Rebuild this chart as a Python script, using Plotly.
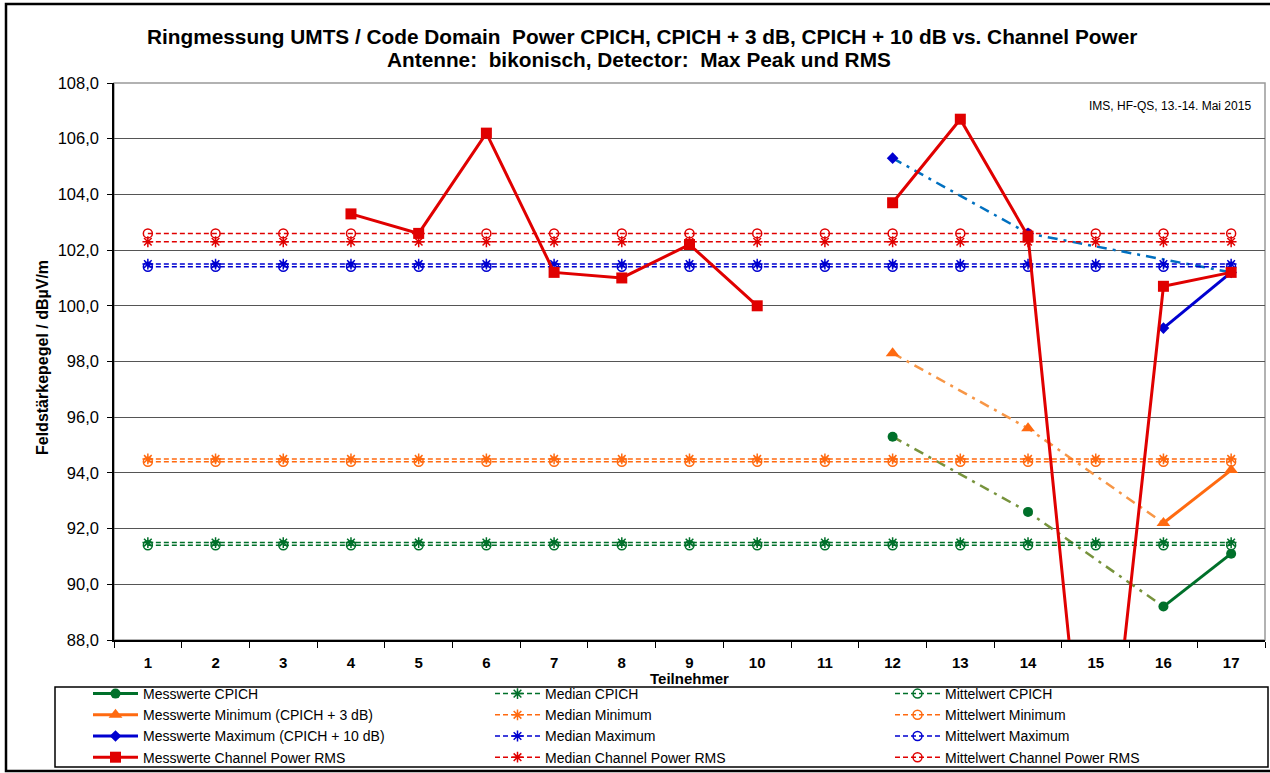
import plotly.graph_objects as go

# ---------------------------------------------------------------------------
# Data
# ---------------------------------------------------------------------------
teilnehmer = [str(i) for i in range(1, 18)]

cpich = [None] * 11 + [95.3, None, 92.6, None, 89.2, 91.1]
minimum = [None] * 11 + [98.3, None, 95.6, None, 92.2, 94.1]
maximum = [None] * 11 + [105.3, None, 102.6, None, 99.2, 101.2]
channel_rms = [None, None, None, 103.3, 102.6, 106.2, 101.2, 101.0, 102.2, 100.0,
               None, 103.7, 106.7, 102.5, 78.5, 100.7, 101.2]

# dash-dot connectors across the gaps (participant numbers)
cpich_trend = [12, 14, 16]
minimum_trend = [12, 14, 16]
maximum_trend = [12, 14, 17]

series_names = ["CPICH", "Minimum", "Maximum", "Channel Power RMS"]
messwerte_names = ["Messwerte CPICH", "Messwerte Minimum (CPICH + 3 dB)",
                   "Messwerte Maximum (CPICH + 10 dB)", "Messwerte Channel Power RMS"]
median_values = [91.5, 94.5, 101.5, 102.3]
mean_values = [91.4, 94.4, 101.4, 102.6]

y_ticks = [88, 90, 92, 94, 96, 98, 100, 102, 104, 106, 108]

# ---------------------------------------------------------------------------
# Styles
# ---------------------------------------------------------------------------
COLORS = ["#00702a", "#ff6a10", "#0000d0", "#e00000"]
TREND_COLORS = ["#77933c", "#f79646", "#0070c0"]
SYMBOLS = ["circle", "triangle-up", "diamond", "square"]
SIZES = [10, 12, 9, 11]
FONT = "Liberation Sans, Arial, sans-serif"

W, H = 1270, 773
# plot area in pixels
L, R, T, B = 114, 5, 83, 133
PW, PH = W - L - R, H - T - B


def px_x(px):
    return (px - L) / PW


def px_y(py):
    return (H - B - py) / PH


fig = go.Figure()

series_values = [cpich, minimum, maximum, channel_rms]
trend_x = [cpich_trend, minimum_trend, maximum_trend]

# dash-dot connectors first (below markers)
for i, xs in enumerate(trend_x):
    vals = series_values[i]
    fig.add_trace(go.Scatter(
        x=[str(n) for n in xs],
        y=[vals[n - 1] for n in xs],
        mode="lines",
        line=dict(color=TREND_COLORS[i], width=2.5, dash="10px,6px,3px,6px"),
        showlegend=False, hoverinfo="skip",
    ))

for i, name in enumerate(series_names):
    # horizontal median / mean lines
    fig.add_trace(go.Scatter(
        x=teilnehmer, y=[median_values[i]] * len(teilnehmer),
        mode="lines+markers", name=f"Median {name}",
        line=dict(color=COLORS[i], width=1.5, dash="5px,3px"),
        marker=dict(symbol="asterisk-open", size=9, color=COLORS[i],
                    line=dict(color=COLORS[i], width=1.5)),
        legend="legend2", legendrank=i,
    ))
    fig.add_trace(go.Scatter(
        x=teilnehmer, y=[mean_values[i]] * len(teilnehmer),
        mode="lines+markers", name=f"Mittelwert {name}",
        line=dict(color=COLORS[i], width=1.5, dash="5px,3px"),
        marker=dict(symbol="circle-open", size=9, color=COLORS[i],
                    line=dict(color=COLORS[i], width=1.5)),
        legend="legend3", legendrank=i,
    ))

for i, name in enumerate(messwerte_names):
    fig.add_trace(go.Scatter(
        x=teilnehmer, y=series_values[i],
        mode="lines+markers", name=name,
        line=dict(color=COLORS[i], width=3),
        marker=dict(symbol=SYMBOLS[i], size=SIZES[i], color=COLORS[i]),
        connectgaps=False,
        legend="legend", legendrank=i,
    ))

legend_style = dict(
    orientation="v", yanchor="top", xanchor="left",
    bgcolor="rgba(0,0,0,0)", borderwidth=0,
    font=dict(family=FONT, size=14, color="#000"),
    itemwidth=45, tracegroupgap=0,
)

TITLE_FONT = dict(family=FONT, size=20.8, weight="bold")

fig.update_layout(
    template="none",
    width=W, height=H, autosize=False,
    paper_bgcolor="white", plot_bgcolor="white",
    margin=dict(l=L, r=R, t=T, b=B, pad=0, autoexpand=False),
    separators=",.",
    font=dict(family=FONT, size=14, color="#000"),
    legend=dict(x=px_x(88), y=px_y(678), **legend_style),
    legend2=dict(x=px_x(490), y=px_y(678), **legend_style),
    legend3=dict(x=px_x(890), y=px_y(678), **legend_style),
    xaxis=dict(
        type="category", categoryorder="array", categoryarray=teilnehmer,
        range=[-0.5, len(teilnehmer) - 0.5],
        tickson="boundaries", ticks="outside", ticklen=6, tickcolor="#000",
        ticklabelstandoff=8,
        showgrid=False, showline=True, linecolor="#000", linewidth=1.5,
        zeroline=False, automargin=False,
        tickfont=dict(family=FONT, size=15, color="#000", weight="bold"),
    ),
    yaxis=dict(
        range=[88, 108], tickvals=y_ticks, tickformat=".1f",
        ticks="outside", ticklen=5, tickcolor="#000",
        ticklabelstandoff=5,
        showgrid=True, gridcolor="#555", gridwidth=1,
        showline=True, linecolor="#000", linewidth=1.5, zeroline=False,
        automargin=False,
        tickfont=dict(family=FONT, size=16.5, color="#000"),
    ),
    shapes=[
        # plot area frame (right/top grey)
        dict(type="rect", xref="paper", yref="paper", x0=0, x1=1, y0=0, y1=1,
             line=dict(color="#999", width=1.5), layer="below"),
        # legend box
        dict(type="rect", xref="paper", yref="paper",
             x0=px_x(55), x1=px_x(1268), y0=px_y(767), y1=px_y(687),
             line=dict(color="#000", width=1.5)),
        # outer chart border
        dict(type="rect", xref="paper", yref="paper",
             x0=px_x(6), x1=px_x(1280), y0=px_y(771), y1=px_y(4),
             line=dict(color="#000", width=2.5)),
    ],
    annotations=[
        dict(text="Ringmessung UMTS / Code Domain  Power CPICH, CPICH + 3 dB, "
                  "CPICH + 10 dB vs. Channel Power",
             x=px_x(642), y=px_y(36), xref="paper", yref="paper",
             xanchor="center", yanchor="middle",
             showarrow=False, font=TITLE_FONT),
        dict(text="Antenne:  bikonisch, Detector:  Max Peak und RMS",
             x=px_x(639), y=px_y(60), xref="paper", yref="paper",
             xanchor="center", yanchor="middle",
             showarrow=False, font=TITLE_FONT),
        dict(text="IMS, HF-QS, 13.-14. Mai 2015",
             x=px_x(1253), y=px_y(106), xref="paper", yref="paper",
             xanchor="right", yanchor="middle",
             showarrow=False, font=dict(family=FONT, size=12)),
        dict(text="Feldstärkepegel / dBµV/m", textangle=-90,
             x=px_x(42), y=px_y(358), xref="paper", yref="paper",
             xanchor="center", yanchor="middle",
             showarrow=False, font=dict(family=FONT, size=16, weight="bold")),
        dict(text="Teilnehmer",
             x=px_x(689), y=px_y(678), xref="paper", yref="paper",
             xanchor="center", yanchor="middle",
             showarrow=False, font=dict(family=FONT, size=15, weight="bold")),
    ],
)

fig.write_html(
    "out.html",
    config={"displayModeBar": False},
    post_script="document.body.style.margin='0';document.body.style.overflow='hidden';",
)
